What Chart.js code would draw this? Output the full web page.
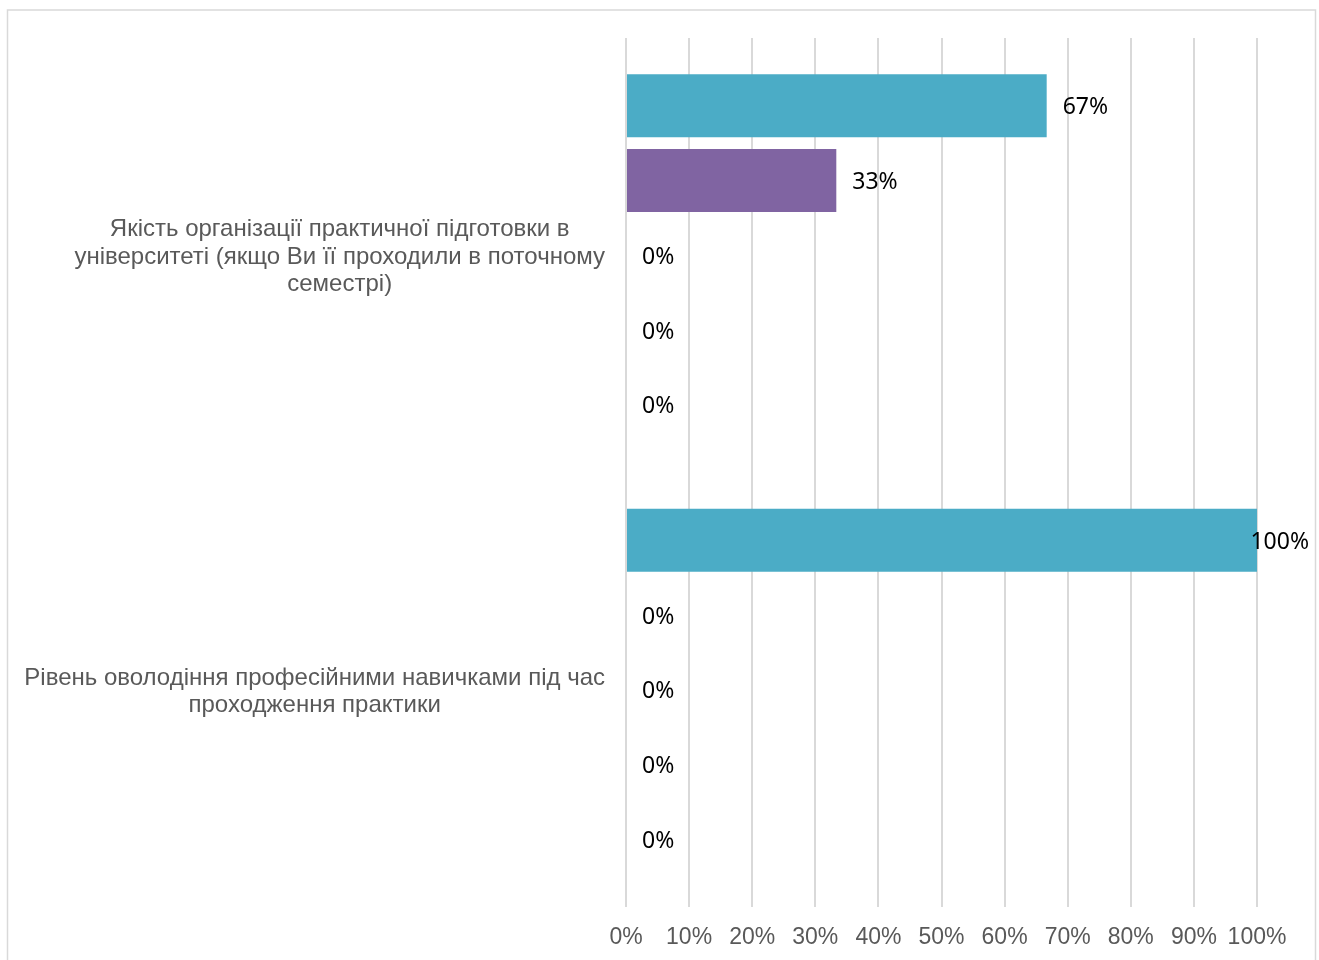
<!DOCTYPE html>
<html>
<head>
<meta charset="utf-8">
<script src="https://cdn.jsdelivr.net/npm/chart.js@4.4.0/dist/chart.umd.min.js"></script>
<style>
  body { margin: 0; background: #fff; }
  canvas { display: block; }
</style>
</head>
<body>
<canvas id="myChart" width="1319" height="960"></canvas>
<script>
var categories = [
  ['Якість організації практичної підготовки в', 'університеті (якщо Ви її проходили в поточному', 'семестрі)'],
  ['Рівень оволодіння професійними навичками під час', 'проходження практики']
];
var series5 = [66.67, 100];
var series4 = [33.33, 0];
var series3 = [0, 0];
var series2 = [0, 0];
var series1 = [0, 0];
var seriesNames = ['5', '4', '3', '2', '1'];
var xTicks = ['0%', '10%', '20%', '30%', '40%', '50%', '60%', '70%', '80%', '90%', '100%'];

var ctx = document.getElementById('myChart').getContext('2d');

// outer frame of the chart
var framePlugin = {
  id: 'frame',
  beforeDraw: function (chart) {
    var c = chart.ctx;
    c.save();
    c.fillStyle = '#fff';
    c.fillRect(0, 0, chart.width, chart.height);
    c.strokeStyle = '#d9d9d9';
    c.lineWidth = 1.5;
    c.strokeRect(7.5, 10, 1308, 970);
    c.restore();
  }
};

// category labels: each block right aligned, lines centred inside it
var categoryLabels = {
  id: 'categoryLabels',
  afterDraw: function (chart) {
    var c = chart.ctx;
    var y = chart.scales.y;
    var right = y.right - 21;
    var lh = 27.5;
    c.save();
    c.font = '24px "Liberation Sans", Arial, sans-serif';
    c.fillStyle = '#595959';
    c.textAlign = 'center';
    c.textBaseline = 'middle';
    categories.forEach(function (lines, i) {
      var w = 0;
      lines.forEach(function (l) { w = Math.max(w, c.measureText(l).width); });
      var cx = right - w / 2;
      var cy = y.getPixelForTick(i) + 2;
      var top = cy - (lines.length - 1) * lh / 2;
      lines.forEach(function (l, k) {
        c.fillText(l, cx, top + k * lh);
      });
    });
    c.restore();
  }
};

// value labels at the end of each bar
var valueLabels = {
  id: 'valueLabels',
  afterDatasetsDraw: function (chart) {
    var c = chart.ctx;
    c.save();
    c.font = '23px "Noto Sans", sans-serif';
    c.fillStyle = '#000';
    c.textAlign = 'left';
    c.textBaseline = 'middle';
    chart.data.datasets.forEach(function (ds, i) {
      var meta = chart.getDatasetMeta(i);
      meta.data.forEach(function (bar, j) {
        var txt = Math.round(ds.data[j]) + '%';
        var w = c.measureText(txt).width;
        var x = bar.x + 16;
        if (x + w > 1309) x = 1309 - w;
        c.fillText(txt, x, bar.y + 2);
      });
    });
    c.restore();
  }
};

var colors = ['#4bacc6', '#8064a2', '#9bbb59', '#c0504d', '#4f81bd'];
var values = [series5, series4, series3, series2, series1];

var chartData = {
  type: 'bar',
  data: {
    labels: categories,
    datasets: values.map(function (v, i) {
      return {
        label: seriesNames[i],
        data: v,
        backgroundColor: colors[i],
        borderWidth: 0,
        barPercentage: 0.843,
        categoryPercentage: 0.86
      };
    })
  },
  options: {
    indexAxis: 'y',
    responsive: false,
    animation: false,
    devicePixelRatio: 1,
    layout: { padding: { left: 0, top: 38, right: 62, bottom: 0 } },
    plugins: {
      legend: { display: false },
      tooltip: { enabled: false }
    },
    scales: {
      x: {
        min: 0,
        max: 100,
        grid: { color: '#d9d9d9', lineWidth: 2, drawTicks: false },
        border: { display: false },
        ticks: {
          stepSize: 10,
          padding: 17,
          maxRotation: 0,
          minRotation: 0,
          autoSkip: false,
          color: '#595959',
          font: { family: '"Liberation Sans", Arial, sans-serif', size: 23 },
          callback: function (v) { return xTicks[Math.round(v / 10)]; }
        },
        afterFit: function (scale) { scale.height = 53; }
      },
      y: {
        grid: { display: false },
        border: { display: false },
        ticks: { display: false },
        afterFit: function (scale) { scale.width = 626; }
      }
    }
  },
  plugins: [framePlugin, valueLabels, categoryLabels]
};

var myChart = new Chart(ctx, chartData);
</script>
</body>
</html>
